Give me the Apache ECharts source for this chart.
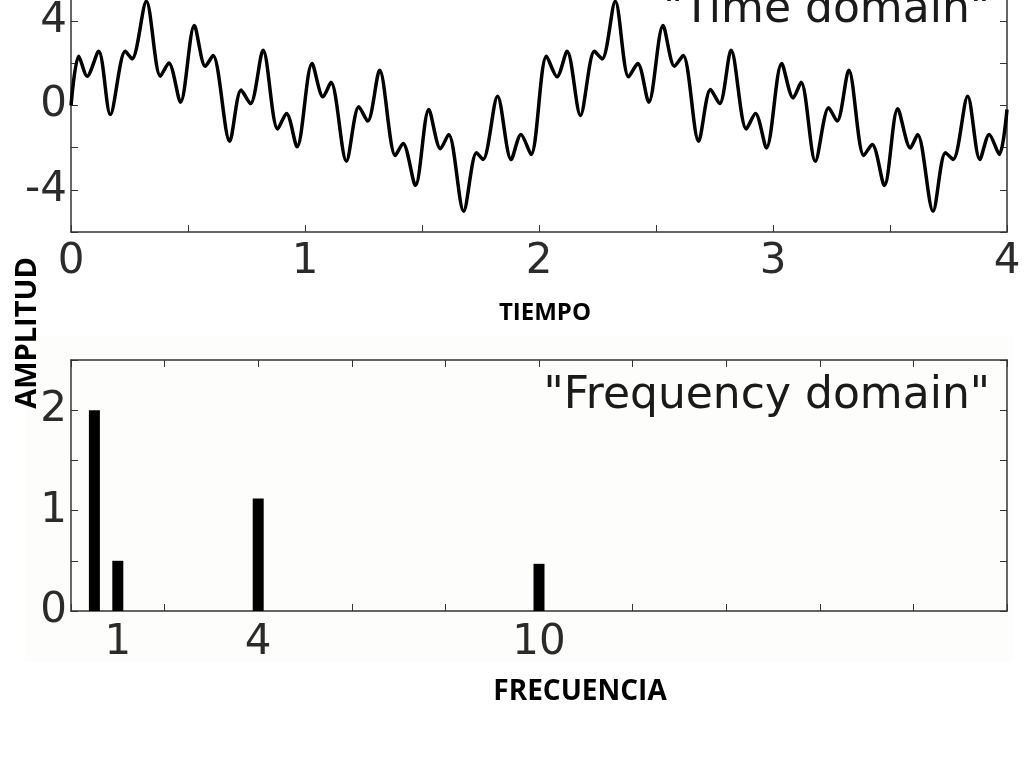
<!DOCTYPE html>
<html>
<head>
<meta charset="utf-8">
<script src="https://cdn.jsdelivr.net/npm/echarts@6/dist/echarts.min.js"></script>
<style>
html,body{margin:0;padding:0;background:#fff;}
#chart{width:1024px;height:768px;}
</style>
</head>
<body>
<div id="chart"></div>
<script>
// ---- Time domain signal ----
const timeT = [0.000,0.033,0.069,0.118,0.168,0.232,0.261,0.322,0.382,0.418,0.468,0.527,0.574,0.607,0.678,0.727,0.767,0.821,0.883,0.921,0.966,
  1.030,1.077,1.111,1.177,1.230,1.268,1.319,1.386,1.419,1.472,1.529,1.579,1.614,1.678,1.733,1.761,1.823,1.881,1.923,1.966,
  2.032,2.077,2.120,2.177,2.237,2.270,2.326,2.383,2.422,2.469,2.530,2.579,2.616,2.682,2.733,2.772,2.821,2.886,2.925,2.972,
  3.037,3.086,3.120,3.181,3.238,3.274,3.324,3.388,3.424,3.476,3.533,3.587,3.618,3.684,3.737,3.770,3.832,3.884,3.924,3.967,4.000];
const timeAmp = [0.00,2.34,1.39,2.57,-0.43,2.57,2.21,4.94,1.39,2.02,0.16,3.79,1.86,2.37,-1.69,0.73,0.09,2.62,-1.11,-0.38,-1.96,
  1.99,0.41,1.10,-2.64,-0.06,-0.74,1.67,-2.37,-1.80,-3.79,-0.19,-2.05,-1.37,-5.01,-2.24,-2.56,0.44,-2.56,-1.37,-2.32,
  2.34,1.36,2.57,-0.47,2.57,2.21,4.94,1.36,1.99,0.16,3.79,1.86,2.37,-1.69,0.76,0.09,2.62,-1.11,-0.38,-2.01,
  1.99,0.36,1.10,-2.64,-0.11,-0.74,1.67,-2.37,-1.85,-3.79,-0.16,-2.01,-1.37,-5.01,-2.24,-2.56,0.44,-2.56,-1.37,-2.32,-0.19];
const timeTickLabels = [0,1,2,3,4];
const timeAmpTickLabels = [-4,0,4];

// ---- Frequency domain ----
const freqs = [0.5, 1, 4, 10];
const freqAmp = [2.0, 0.5, 1.12, 0.47];
const freqTickLabels = [1, 4, 10];
const freqAmpTickLabels = [0, 1, 2];

const titleTop = '"Time domain"';
const titleBottom = '"Frequency domain"';
const yName = 'AMPLITUD';
const xNameTop = 'TIEMPO';
const xNameBottom = 'FRECUENCIA';

const lineData = timeT.map((t, i) => [t, timeAmp[i]]);
const barData = freqs.map((f, i) => [f, freqAmp[i]]);

const AX = '#333';
const LBL = '#2b2b2b';
const tickFont = 'DejaVu Sans';
const near = (v, arr) => arr.some(a => Math.abs(a - v) < 1e-6);

function frameAxis(extra) {
  return Object.assign({
    type: 'value',
    axisLine: { show: true, onZero: false, lineStyle: { color: AX, width: 1.5 } },
    axisTick: { show: true, inside: true, length: 7, lineStyle: { color: AX, width: 1 } },
    axisLabel: { show: false },
    splitLine: { show: false }
  }, extra);
}

const chart = echarts.init(document.getElementById('chart'), null, { renderer: 'canvas' });
chart.setOption({
  animation: false,
  backgroundColor: '#ffffff',
  grid: [
    { left: 71, right: 17, top: -21, height: 253, containLabel: false, outerBoundsMode: 'none' },
    { left: 71, right: 17, top: 360, height: 251, containLabel: false, outerBoundsMode: 'none' }
  ],
  xAxis: [
    frameAxis({ gridIndex: 0, min: 0, max: 4, interval: 0.5, position: 'bottom',
      axisLabel: { show: true, margin: 9, fontSize: 42, fontFamily: tickFont, color: LBL,
        formatter: v => near(v, timeTickLabels) ? String(Math.round(v)) : '' } }),
    frameAxis({ gridIndex: 0, min: 0, max: 4, interval: 0.5, position: 'top' }),
    frameAxis({ gridIndex: 1, min: 0, max: 20, interval: 2, position: 'bottom' }),
    frameAxis({ gridIndex: 1, min: 0, max: 20, interval: 2, position: 'top' }),
    { type: 'value', gridIndex: 1, min: 0, max: 20, interval: 1, position: 'bottom',
      axisLine: { show: false, onZero: false }, axisTick: { show: false }, splitLine: { show: false },
      axisLabel: { show: true, margin: 11, fontSize: 42, fontFamily: tickFont, color: LBL,
        formatter: v => near(v, freqTickLabels) ? String(Math.round(v)) : '' } }
  ],
  yAxis: [
    frameAxis({ gridIndex: 0, min: -6, max: 6, interval: 2, position: 'left',
      axisLabel: { show: true, margin: 4, fontSize: 42, fontFamily: tickFont, color: LBL,
        formatter: v => near(v, timeAmpTickLabels) ? String(Math.round(v)) : '' } }),
    frameAxis({ gridIndex: 0, min: -6, max: 6, interval: 2, position: 'right' }),
    frameAxis({ gridIndex: 1, min: 0, max: 2.5, interval: 0.5, position: 'left',
      axisLabel: { show: true, margin: 4, fontSize: 42, fontFamily: tickFont, color: LBL,
        formatter: v => near(v, freqAmpTickLabels) ? String(Math.round(v)) : '' } }),
    frameAxis({ gridIndex: 1, min: 0, max: 2.5, interval: 0.5, position: 'right' })
  ],
  series: [
    { type: 'line', xAxisIndex: 0, yAxisIndex: 0, data: lineData, smooth: 0.3,
      showSymbol: false, lineStyle: { color: '#000', width: 3.5 }, z: 3 },
    { type: 'bar', xAxisIndex: 2, yAxisIndex: 2, data: barData, barWidth: 11,
      itemStyle: { color: '#000' }, z: 3 }
  ],
  graphic: [
    { type: 'rect', z: -10, silent: true, shape: { x: 25, y: 336, width: 988, height: 326 },
      style: { fill: '#fdfdfc' } },
    { type: 'text', z: 10, style: { text: titleTop, x: 990, y: 11, align: 'right', verticalAlign: 'middle',
      font: '44px "DejaVu Sans"', fill: '#1a1a1a' } },
    { type: 'text', z: 10, style: { text: titleBottom, x: 990, y: 397, align: 'right', verticalAlign: 'middle',
      font: '44px "DejaVu Sans"', fill: '#1a1a1a' } },
    { type: 'text', z: 10, rotation: Math.PI / 2, x: 28, y: 333,
      style: { text: yName, x: 0, y: 0, align: 'center', verticalAlign: 'middle',
        font: 'bold 29px "Open Sans"', fill: '#000' } },
    { type: 'text', z: 10, style: { text: xNameTop, x: 545, y: 313, align: 'center', verticalAlign: 'middle',
      font: 'bold 24px "Open Sans"', fill: '#000' } },
    { type: 'text', z: 10, style: { text: xNameBottom, x: 580, y: 692, align: 'center', verticalAlign: 'middle',
      font: 'bold 28px "Open Sans"', fill: '#000' } }
  ]
});
</script>
</body>
</html>
